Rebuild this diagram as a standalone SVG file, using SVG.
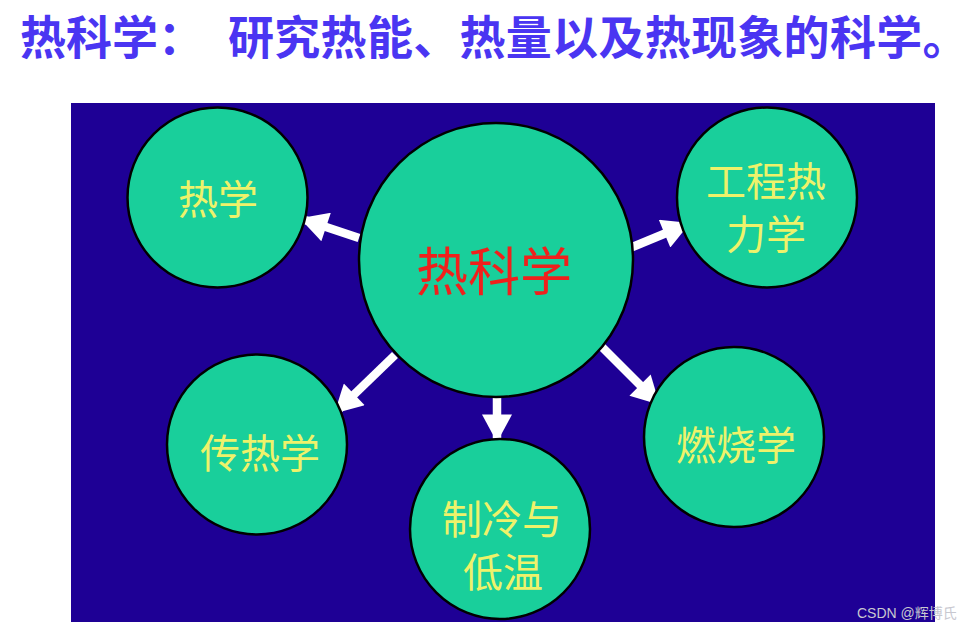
<svg xmlns="http://www.w3.org/2000/svg" width="972" height="629" viewBox="0 0 972 629">
<style>
.node circle{fill:#19cf9b;stroke:#000;stroke-width:2.5}
.lbl{font-family:"Noto Sans CJK SC","Noto Sans",sans-serif;fill:#eef26a;font-size:40px;text-anchor:middle;dominant-baseline:central}
.conn line{stroke:#fff;stroke-width:8.5}
.title{font-family:"Noto Sans CJK SC",sans-serif;font-weight:bold;font-size:46px;fill:#4a35f2}
</style>
<defs>
<marker id="ah" markerUnits="userSpaceOnUse" markerWidth="30" markerHeight="30" viewBox="0 0 24 26" refX="22" refY="13" orient="auto">
<path d="M0,0 L24,13 L0,26 Z" fill="#fff"/>
</marker>
</defs>
<rect width="972" height="629" fill="#fff"/>
<text class="title" x="20" y="54">热科学：</text>
<text class="title" x="228" y="54" letter-spacing="0.3">研究热能、热量以及热现象的科学。</text>
<rect x="71" y="103" width="864" height="519" fill="#1e0095"/>
<g class="conn">
<line x1="359" y1="238" x2="302" y2="219" marker-end="url(#ah)"/>
<line x1="630" y1="248" x2="688" y2="224" marker-end="url(#ah)"/>
<line x1="395" y1="355" x2="336" y2="412" marker-end="url(#ah)"/>
<line x1="600" y1="345" x2="658" y2="403" marker-end="url(#ah)"/>
<line x1="497" y1="397" x2="497" y2="440" marker-end="url(#ah)"/>
</g>
<g id="n-center" class="node"><circle cx="496" cy="260" r="137"/><text class="lbl" x="494" y="268" style="fill:#f0201c;font-size:52px">热科学</text></g>
<g id="n-rexue" class="node"><circle cx="217.5" cy="197.5" r="90"/><text class="lbl" x="218" y="197">热学</text></g>
<g id="n-gongcheng" class="node"><circle cx="767" cy="197.5" r="90"/><text class="lbl" x="766" y="179">工程热</text><text class="lbl" x="766" y="232">力学</text></g>
<g id="n-chuanre" class="node"><circle cx="257" cy="444.5" r="90"/><text class="lbl" x="260" y="451">传热学</text></g>
<g id="n-zhileng" class="node"><circle cx="500" cy="529" r="90"/><text class="lbl" x="502" y="517">制冷与</text><text class="lbl" x="503" y="570">低温</text></g>
<g id="n-ranshao" class="node"><circle cx="734" cy="437" r="90"/><text class="lbl" x="736" y="443">燃烧学</text></g>
<text x="857" y="618" font-family="Liberation Sans,Noto Sans CJK SC,sans-serif" font-size="14" fill="#c8c8d0">CSDN @辉博氏</text>
</svg>
